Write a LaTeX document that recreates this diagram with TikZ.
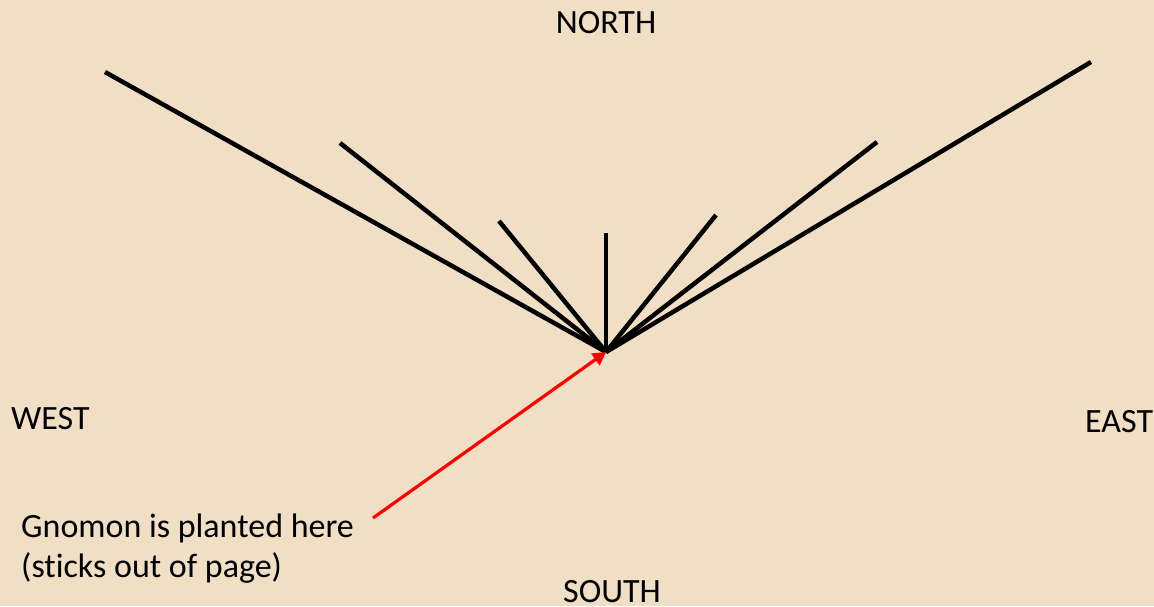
\documentclass[tikz,border=0pt]{standalone}
\usepackage{fontspec}
\setmainfont[Ligatures={NoCommon}]{Carlito}
\usetikzlibrary{arrows.meta}
\definecolor{parch}{RGB}{240,223,197}
\definecolor{arrowred}{RGB}{255,0,0}
\tikzset{
  ray/.style={draw=black, line width=4.5pt},
  lbl/.style={font=\fontsize{34}{41}\selectfont, text=black, inner sep=0pt},
  pointer/.style={draw=arrowred, line width=3.2pt, -{Triangle[length=13pt,width=14pt]}},
}
\begin{document}
\begin{tikzpicture}[x=1pt,y=-1pt]
\fill[parch] (0,0) rectangle (1154,606);
\useasboundingbox (0,0) rectangle (1154,606);
\coordinate (c) at (606,352);
\coordinate (e1) at (105,72);
\coordinate (e2) at (340,143);
\coordinate (e3) at (499,221);
\coordinate (e4) at (606,233);
\coordinate (e5) at (716,215);
\coordinate (e6) at (877,142);
\coordinate (e7) at (1091,62);
\foreach \i in {1,...,7}{\draw[ray] (c) -- (e\i);}
\node[lbl, anchor=base] (north) at (606,33) {NORTH};
\node[lbl, anchor=base] (south) at (612,602) {SOUTH};
\node[lbl, anchor=base west] (west) at (11,429) {WEST};
\node[lbl, anchor=base west] (east) at (1085,432) {EAST};
\node[lbl, anchor=base west] (gn) at (21,537) {Gnomon is planted here};
\node[lbl, anchor=base west] (gn2) at (21,577) {(sticks out of page)};
\coordinate (rs) at (373,518);
\draw[pointer] (rs) -- (c);
\end{tikzpicture}
\end{document}
